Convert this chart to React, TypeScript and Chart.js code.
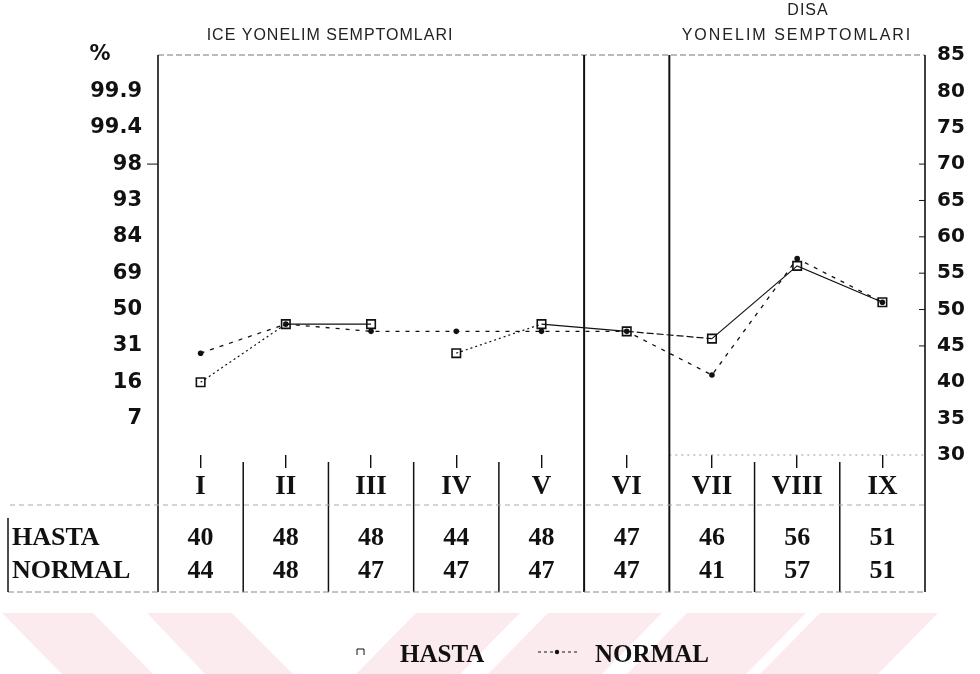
import React, { useEffect, useRef } from "react";
import { Chart, registerables } from "chart.js";

Chart.register(...registerables);

const categories = ["I", "II", "III", "IV", "V", "VI", "VII", "VIII", "IX"];
const hasta = [40, 48, 48, 44, 48, 47, 46, 56, 51];
const normal = [44, 48, 47, 47, 47, 47, 41, 57, 51];
const rowLabels = ["HASTA", "NORMAL"];
const leftTickLabels: Record<number, string> = {
  85: "%\u2002\u2002\u2002",
  80: "99.9",
  75: "99.4",
  70: "98",
  65: "93",
  60: "84",
  55: "69",
  50: "50",
  45: "31",
  40: "16",
  35: "7",
  30: "",
};
const leftGroupTitle = "ICE YONELIM SEMPTOMLARI";
const rightGroupTitle = ["DISA", "YONELIM SEMPTOMLARI"];
const legendLabels = ["HASTA", "NORMAL"];

const INK = "#111";
const SERIF = "'Liberation Serif', 'DejaVu Serif', serif";
const SANS = "'DejaVu Sans', sans-serif";

const decor = {
  id: "decor",
  beforeDraw(chart: any) {
    const ctx = chart.ctx;
    ctx.save();
    ctx.fillStyle = "#fcebee";
    const t = 613, b = 674;
    const bands: number[][] = [
      [2, 93, 62, 153],
      [147, 232, 205, 293],
      [416, 520, 356, 460],
      [548, 662, 488, 602],
      [687, 806, 627, 746],
      [820, 938, 760, 878],
    ];
    for (const [a1, a2, b1, b2] of bands) {
      ctx.beginPath();
      ctx.moveTo(a1, t);
      ctx.lineTo(a2, t);
      ctx.lineTo(b2, b);
      ctx.lineTo(b1, b);
      ctx.closePath();
      ctx.fill();
    }
    ctx.restore();
  },
  beforeDatasetsDraw(chart: any) {
    const ctx = chart.ctx;
    const { left, right, top, bottom } = chart.chartArea;
    const n = categories.length;
    const step = (right - left) / n;
    const tableBottom = 592;
    ctx.save();
    const line = (x1: number, y1: number, x2: number, y2: number, w: number, color: string, dash: number[] = []) => {
      ctx.beginPath();
      ctx.setLineDash(dash);
      ctx.lineWidth = w;
      ctx.strokeStyle = color;
      ctx.moveTo(x1, y1);
      ctx.lineTo(x2, y2);
      ctx.stroke();
    };
    line(left, top, right, top, 1, "#777", [6, 3]);
    line(left + 6 * step, bottom, right, bottom, 1, "#999", [2, 4]);
    line(left, top, left, tableBottom, 1.6, INK);
    line(right, top, right, tableBottom, 1.6, INK);
    line(left + 5 * step, top, left + 5 * step, tableBottom, 2, INK);
    line(left + 6 * step, top, left + 6 * step, tableBottom, 2, INK);
    for (let k = 1; k < n; k++) {
      if (k === 5 || k === 6) continue;
      line(left + k * step, bottom + 7, left + k * step, tableBottom, 1.5, INK);
    }
    line(10, 505, right, 505, 1, "#aaa", [5, 4]);
    line(8, tableBottom, right, tableBottom, 1, "#888", [6, 3]);
    line(8, 518, 8, tableBottom, 1.5, INK);
    const y = chart.scales.y;
    for (const v of [45, 50, 55, 60, 65, 70]) {
      const py = y.getPixelForValue(v);
      line(right - 6, py, right, py, 1, INK);
    }
    const p98 = y.getPixelForValue(70);
    line(left - 11, p98, left, p98, 1, INK);
    ctx.restore();
  },
  afterDraw(chart: any) {
    const ctx = chart.ctx;
    const x = chart.scales.x;
    ctx.save();
    ctx.textBaseline = "middle";
    ctx.font = `16px 'Liberation Sans', sans-serif`;
    ctx.fillStyle = "#222";
    ctx.textAlign = "center";
    (ctx as any).letterSpacing = "1px";
    ctx.fillText(leftGroupTitle, 330, 36);
    ctx.fillText(rightGroupTitle[0], 808, 11);
    (ctx as any).letterSpacing = "2px";
    ctx.fillText(rightGroupTitle[1], 797, 36);
    (ctx as any).letterSpacing = "0px";
    ctx.fillStyle = INK;
    ctx.font = `bold 26px ${SERIF}`;
    const rows = [hasta, normal];
    const rowY = [538, 571];
    rows.forEach((vals, r) => {
      ctx.textAlign = "left";
      ctx.fillText(rowLabels[r], 12, rowY[r]);
      ctx.textAlign = "center";
      vals.forEach((v, i) => {
        ctx.fillText(String(v), x.getPixelForValue(i), rowY[r]);
      });
    });
    const ly = 656;
    ctx.font = `bold 25px ${SERIF}`;
    ctx.textAlign = "left";
    ctx.fillText(legendLabels[0], 400, ly);
    ctx.fillText(legendLabels[1], 595, ly);
    ctx.lineWidth = 1;
    ctx.strokeStyle = INK;
    ctx.beginPath();
    ctx.moveTo(357, ly - 1);
    ctx.lineTo(357, ly - 7);
    ctx.lineTo(364, ly - 7);
    ctx.lineTo(364, ly - 1);
    ctx.stroke();
    ctx.setLineDash([3, 3]);
    ctx.beginPath();
    ctx.moveTo(538, ly - 4);
    ctx.lineTo(578, ly - 4);
    ctx.stroke();
    ctx.setLineDash([]);
    ctx.beginPath();
    ctx.arc(557, ly - 4, 2.2, 0, Math.PI * 2);
    ctx.fill();
    ctx.restore();
  },
};

export default function App() {
  const ref = useRef<HTMLCanvasElement | null>(null);
  useEffect(() => {
    if (!ref.current) return;
    const chart = new Chart(ref.current, {
      type: "line",
      data: {
        labels: categories,
        datasets: [
          {
            label: "HASTA",
            data: hasta,
            yAxisID: "y",
            borderColor: INK,
            borderWidth: 1.2,
            pointStyle: "rect",
            pointRadius: 6,
            pointBorderWidth: 1.6,
            pointBorderColor: INK,
            pointBackgroundColor: "rgba(0,0,0,0)",
            tension: 0,
            segment: {
              borderColor: (c: any) => (c.p0DataIndex === 2 ? "rgba(0,0,0,0)" : INK),
              borderDash: (c: any) =>
                c.p0DataIndex === 0 || c.p0DataIndex === 3
                  ? [2, 3]
                  : c.p0DataIndex === 5
                  ? [7, 3]
                  : undefined,
            },
            order: 2,
          },
          {
            label: "NORMAL",
            data: normal,
            yAxisID: "y",
            borderColor: INK,
            borderWidth: 1.3,
            borderDash: [4, 6],
            pointStyle: "circle",
            pointRadius: 2.8,
            pointBorderWidth: 0,
            pointBackgroundColor: INK,
            tension: 0,
            order: 1,
          },
        ],
      },
      options: {
        responsive: false,
        animation: false,
        devicePixelRatio: 1,
        layout: { padding: { top: 55, bottom: 159, left: 0, right: 0 } },
        plugins: { legend: { display: false }, tooltip: { enabled: false } },
        scales: {
          x: {
            type: "category",
            offset: true,
            border: { display: false },
            grid: {
              drawOnChartArea: false,
              drawTicks: true,
              tickLength: 13,
              color: INK,
              lineWidth: 1.4,
            },
            ticks: {
              color: INK,
              padding: 3,
              font: { family: SERIF, size: 27, weight: "bold" },
              autoSkip: false,
              maxRotation: 0,
            },
            afterFit: (s: any) => {
              s.height = 60;
            },
          },
          y: {
            position: "right",
            min: 30,
            max: 85,
            border: { display: false },
            grid: { display: false, drawTicks: false },
            ticks: {
              stepSize: 5,
              color: INK,
              padding: 12,
              font: { family: SANS, size: 20, weight: "bold" },
            },
            afterFit: (s: any) => {
              s.width = 55;
            },
          },
          yL: {
            position: "left",
            min: 30,
            max: 85,
            border: { display: false },
            grid: { display: false, drawTicks: false },
            ticks: {
              stepSize: 5,
              color: INK,
              padding: 16,
              font: { family: SANS, size: 21, weight: "bold" },
              callback: (v: any) => leftTickLabels[Number(v)] ?? "",
            },
            afterFit: (s: any) => {
              s.width = 158;
            },
          },
        },
      },
      plugins: [decor],
    } as any);
    return () => chart.destroy();
  }, []);
  return (
    <div style={{ position: "fixed", left: 0, top: 0, width: 980, height: 674, background: "#fff" }}>
      <canvas ref={ref} width={980} height={674} style={{ display: "block" }} />
    </div>
  );
}
